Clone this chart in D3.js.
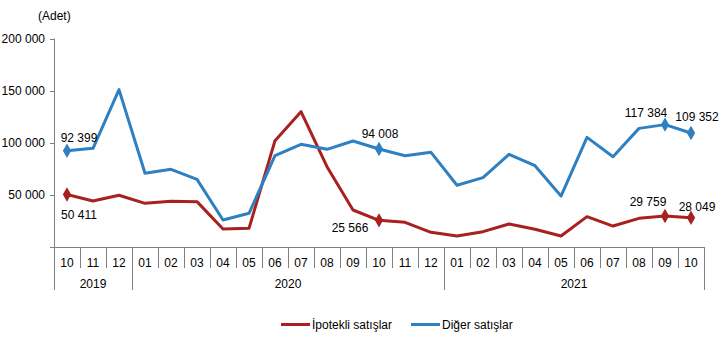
<!DOCTYPE html>
<html>
<head>
<meta charset="utf-8">
<script src="https://cdn.jsdelivr.net/npm/d3@7"></script>
<style>
  body { margin: 0; background: #fff; }
  text { font-family: Arial, "Liberation Sans", sans-serif; fill: #000; }
</style>
</head>
<body>
<div id="chart"></div>
<script>
// months (2019-10 .. 2021-10)
var months = ["10","11","12","01","02","03","04","05","06","07","08","09","10","11","12",
              "01","02","03","04","05","06","07","08","09","10"];
var years = [{label: "2019", start: 0, end: 3}, {label: "2020", start: 3, end: 15}, {label: "2021", start: 15, end: 25}];

var ipotekli = [50411, 44100, 49600, 41900, 43800, 43500, 17300, 17900, 102000, 129800, 77000, 35500,
                25566, 23700, 14100, 10500, 14700, 22100, 17000, 10500, 29100, 20100, 27500, 29759, 28049];
var diger = [92399, 94700, 151000, 70700, 74500, 64900, 25900, 32300, 87600, 98500, 93700, 101700,
             94008, 87600, 90800, 59200, 66500, 88900, 78000, 48900, 105200, 86600, 113800, 117384, 109352];
var yTicks = [0, 50000, 100000, 150000, 200000];

// labelled points: index, series, label offset
var redMarks = [0, 12, 23, 24];
var blueMarks = [0, 12, 23, 24];
var redLabels = [{i: 0, dx: 12, dy: 21}, {i: 12, dx: -29, dy: 8}, {i: 23, dx: -17, dy: -14}, {i: 24, dx: 6, dy: -11}];
var blueLabels = [{i: 0, dx: 12, dy: -13}, {i: 12, dx: 1, dy: -15}, {i: 23, dx: -19, dy: -12}, {i: 24, dx: 6, dy: -16}];

var red = "#A8201F";
var blue = "#2F80C1";

var w = 723, h = 360;
var svg = d3.select("#chart").append("svg").attr("width", w).attr("height", h);

var x = d3.scaleBand().domain(d3.range(months.length)).range([54, 704]);
var y = d3.scaleLinear().domain([0, 200000]).range([247, 38.5]);

var fmt = function(v) { return d3.format(",")(v).replace(/,/g, " "); };

// y axis
svg.append("line").attr("x1", 54.5).attr("x2", 54.5).attr("y1", y(200000)).attr("y2", 290)
  .attr("stroke", "#808080");
svg.selectAll(".ytick").data(yTicks).enter().append("line")
  .attr("x1", 50).attr("x2", 54.5)
  .attr("y1", function(d) { return Math.round(y(d)) + 0.5; })
  .attr("y2", function(d) { return Math.round(y(d)) + 0.5; })
  .attr("stroke", "#808080");
svg.selectAll(".ylab").data(yTicks.filter(function(d) { return d > 0; })).enter().append("text")
  .attr("x", 45).attr("y", function(d) { return y(d) + 4; })
  .attr("text-anchor", "end").attr("font-size", 12)
  .text(fmt);
svg.append("text").attr("x", 38).attr("y", 20).attr("font-size", 12).text("(Adet)");

// x axis
svg.append("line").attr("x1", 54).attr("x2", 704).attr("y1", 247.5).attr("y2", 247.5)
  .attr("stroke", "#808080");
svg.selectAll(".xtick").data(d3.range(1, months.length + 1)).enter().append("line")
  .attr("x1", function(d) { return Math.round(x(0) + d * x.bandwidth()) + 0.5; })
  .attr("x2", function(d) { return Math.round(x(0) + d * x.bandwidth()) + 0.5; })
  .attr("y1", 247).attr("y2", 268)
  .attr("stroke", "#808080");
svg.selectAll(".mlab").data(months).enter().append("text")
  .attr("x", function(d, i) { return x(i) + x.bandwidth() / 2; })
  .attr("y", 267).attr("text-anchor", "middle").attr("font-size", 12)
  .text(function(d) { return d; });
svg.selectAll(".ysep").data(years).enter().append("line")
  .attr("x1", function(d) { return Math.round(x(0) + d.end * x.bandwidth()) + 0.5; })
  .attr("x2", function(d) { return Math.round(x(0) + d.end * x.bandwidth()) + 0.5; })
  .attr("y1", 247).attr("y2", 290)
  .attr("stroke", "#808080");
svg.selectAll(".ylabel").data(years).enter().append("text")
  .attr("x", function(d) { return x(0) + (d.start + d.end) / 2 * x.bandwidth(); })
  .attr("y", 288).attr("text-anchor", "middle").attr("font-size", 12)
  .text(function(d) { return d.label; });

// lines
var line = d3.line()
  .x(function(d, i) { return x(i) + x.bandwidth() / 2; })
  .y(function(d) { return y(d); });

svg.append("path").datum(ipotekli).attr("d", line)
  .attr("fill", "none").attr("stroke", red).attr("stroke-width", 3).attr("stroke-linejoin", "round");
svg.append("path").datum(diger).attr("d", line)
  .attr("fill", "none").attr("stroke", blue).attr("stroke-width", 3).attr("stroke-linejoin", "round");

var diamond = d3.symbol().type(d3.symbolDiamond).size(60);
function marks(data, idx, color) {
  svg.selectAll(null).data(idx).enter().append("path")
    .attr("d", diamond)
    .attr("transform", function(i) { return "translate(" + (x(i) + x.bandwidth() / 2) + "," + y(data[i]) + ")"; })
    .attr("fill", color);
}
marks(ipotekli, redMarks, red);
marks(diger, blueMarks, blue);

function labels(data, list) {
  svg.selectAll(null).data(list).enter().append("text")
    .attr("x", function(d) { return x(d.i) + x.bandwidth() / 2 + d.dx; })
    .attr("y", function(d) { return y(data[d.i]) + d.dy + 4; })
    .attr("text-anchor", "middle").attr("font-size", 12)
    .text(function(d) { return fmt(data[d.i]); });
}
labels(ipotekli, redLabels);
labels(diger, blueLabels);

// legend
var legendItems = [{label: "İpotekli satışlar", color: red, x: 281}, {label: "Diğer satışlar", color: blue, x: 411}];
var lg = svg.selectAll(".lg").data(legendItems).enter().append("g");
lg.append("line")
  .attr("x1", function(d) { return d.x; }).attr("x2", function(d) { return d.x + 29; })
  .attr("y1", 324.5).attr("y2", 324.5)
  .attr("stroke", function(d) { return d.color; }).attr("stroke-width", 3);
lg.append("text")
  .attr("x", function(d) { return d.x + 31; }).attr("y", 329)
  .attr("font-size", 12)
  .text(function(d) { return d.label; });
</script>
</body>
</html>
